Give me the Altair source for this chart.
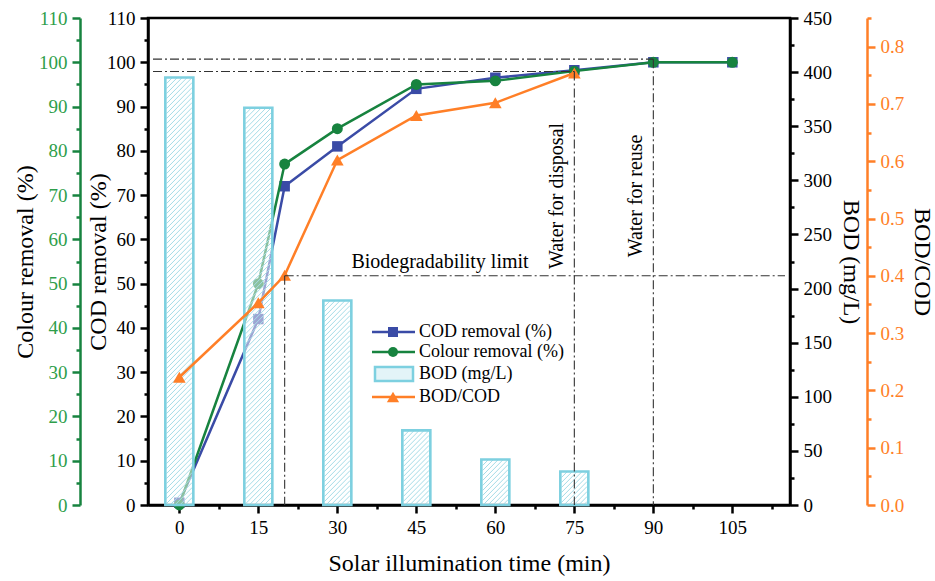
import altair as alt
import pandas as pd

# ---------------- data ----------------
time_pts = [0, 15, 20, 30, 45, 60, 75, 90, 105]
cod_removal = [0.5, 42, 72, 81, 94, 96.5, 98.2, 100, 100]
colour_removal = [0, 50, 77, 85, 95, 95.8, 98, 100, 100]

ratio_time = [0, 15, 20, 30, 45, 60, 75]
bod_cod = [0.223, 0.353, 0.401, 0.602, 0.68, 0.702, 0.754]

bod_time = [0, 15, 30, 45, 60, 75]
bod_mgL = [395, 367, 189, 69, 42, 31]

# reference lines (x, y on the COD / BOD-COD scales)
disposal_t, disposal_level = 75, 97.9
reuse_t, reuse_level = 90, 100.7
biodeg_t, biodeg_ratio = 20, 0.4

FONT = "Liberation Serif, Times New Roman, serif"
BLUE = "#3A4BA6"
GREEN = "#17833F"
GREEN_LAB = "#2E9E4A"
ORANGE = "#FF7F27"
CYAN = "#7DD0E0"
HATCH = "#A6DCE7"

W, H = 642, 487
X_DOM = [-5, 115]
COD_DOM = [0, 110]
BOD_DOM = [0, 450]
RAT_DOM = [0, 0.85]

lines_df = pd.DataFrame({"t": time_pts, "cod": cod_removal, "colour": colour_removal})
ratio_df = pd.DataFrame({"t": ratio_time, "ratio": bod_cod})
bod_df = pd.DataFrame({"t": bod_time, "bod": bod_mgL})

# hatch segments inside each bar (45 degree lines), derived from bar values
px_x = W / (X_DOM[1] - X_DOM[0])
px_b = H / (BOD_DOM[1] - BOD_DOM[0])
half_w = 13.0
step = 5.0
hrows = []
for t, b in zip(bod_time, bod_mgL):
    hh = b * px_b
    ww = 2 * half_w
    c = -hh + 1
    while c < ww:
        x0 = max(0.0, c)
        x1 = min(ww, c + hh)
        if x1 > x0:
            hrows.append({"t": t + (x0 - half_w) / px_x, "b": (x0 - c) / px_b,
                          "t2": t + (x1 - half_w) / px_x, "b2": (x1 - c) / px_b})
        c += step
hatch_df = pd.DataFrame(hrows)

# ---------------- axes ----------------
def mk_axis(title, orient, offset, values, test, label_expr, color, lab_color, title_pad):
    return alt.Axis(title=title, orient=orient, offset=offset, values=values,
                    labelExpr=label_expr,
                    tickSize={"condition": {"test": test, "value": 8}, "value": 4},
                    domainColor=color, tickColor=color, labelColor=lab_color,
                    domainWidth=2.5, tickWidth=2.5, labelFont=FONT, labelFontSize=19,
                    titleFont=FONT, titleFontSize=24, titleFontWeight="normal",
                    titleColor="black", grid=False, titlePadding=title_pad,
                    labelPadding=5, labelFlush=False, labelOverlap=False)

x_axis = mk_axis("Solar illumination time (min)", "bottom", 0,
                 [i * 7.5 for i in range(16)], "datum.value % 15 === 0",
                 "datum.value % 15 === 0 ? datum.label : ''", "black", "black", 14)
x_enc = alt.X("t:Q", scale=alt.Scale(domain=X_DOM, nice=False, zero=False), axis=x_axis)

cod_axis = mk_axis("COD removal (%)", "left", 0, [i * 5 for i in range(23)],
                   "datum.value % 10 === 0", "datum.value % 10 === 0 ? datum.label : ''",
                   "black", "black", -4)
col_axis = mk_axis("Colour removal (%)", "left", 68, [i * 5 for i in range(23)],
                   "datum.value % 10 === 0", "datum.value % 10 === 0 ? datum.label : ''",
                   GREEN, GREEN_LAB, 1)
bod_axis = mk_axis("BOD (mg/L)", "right", 0, [i * 25 for i in range(19)],
                   "datum.value % 50 === 0", "datum.value % 50 === 0 ? datum.label : ''",
                   "black", "black", 7)
rat_axis = mk_axis("BOD/COD", "right", 77, [round(i * 0.05, 2) for i in range(18)],
                   "round(datum.value * 100) % 10 === 0",
                   "round(datum.value * 100) % 10 === 0 ? format(datum.value, '.1f') : ''",
                   ORANGE, ORANGE, 6)

def ysc(dom):
    return alt.Scale(domain=dom, nice=False, zero=False)

# ---------------- layers ----------------
cod_line = alt.Chart(lines_df).mark_line(
    color=BLUE, strokeWidth=2.5,
    point=alt.OverlayMarkDef(shape="square", size=110, filled=True, color=BLUE, opacity=1)
).encode(x=x_enc, y=alt.Y("cod:Q", scale=ysc(COD_DOM), axis=cod_axis))

col_line = alt.Chart(lines_df).mark_line(
    color=GREEN, strokeWidth=2.5,
    point=alt.OverlayMarkDef(shape="circle", size=120, filled=True, color=GREEN, opacity=1)
).encode(x=x_enc, y=alt.Y("colour:Q", scale=ysc(COD_DOM), axis=col_axis))

bars_fill = alt.Chart(bod_df).mark_bar(size=28, color="white", opacity=0.5).encode(
    x=x_enc, y=alt.Y("bod:Q", scale=ysc(BOD_DOM), axis=bod_axis))

hatch = alt.Chart(hatch_df).mark_rule(color=HATCH, strokeWidth=1).encode(
    x=x_enc, x2="t2:Q",
    y=alt.Y("b:Q", scale=ysc(BOD_DOM), axis=None), y2="b2:Q")

bars_outline = alt.Chart(bod_df).mark_bar(size=28, fillOpacity=0, stroke=CYAN, strokeWidth=2.6).encode(
    x=x_enc, y=alt.Y("bod:Q", scale=ysc(BOD_DOM), axis=None))

rat_line = alt.Chart(ratio_df).mark_line(
    color=ORANGE, strokeWidth=2.5,
    point=alt.OverlayMarkDef(shape="triangle-up", size=160, filled=True, color=ORANGE, opacity=1)
).encode(x=x_enc, y=alt.Y("ratio:Q", scale=ysc(RAT_DOM), axis=rat_axis))

# dashed guide lines
ref_cod = pd.DataFrame({
    "t": [X_DOM[0], disposal_t, X_DOM[0], reuse_t],
    "t2": [disposal_t, disposal_t, reuse_t, reuse_t],
    "y": [disposal_level, disposal_level, reuse_level, reuse_level],
    "y2": [disposal_level, 0, reuse_level, 0],
})
ref_rat = pd.DataFrame({
    "t": [biodeg_t, biodeg_t],
    "t2": [X_DOM[1], biodeg_t],
    "y": [biodeg_ratio, biodeg_ratio],
    "y2": [biodeg_ratio, 0],
})
DASH = [9, 3, 2, 3]
ref1 = alt.Chart(ref_cod).mark_rule(color="#333333", strokeWidth=1.1, strokeDash=DASH).encode(
    x=x_enc, x2="t2:Q", y=alt.Y("y:Q", scale=ysc(COD_DOM), axis=None), y2="y2:Q")
ref2 = alt.Chart(ref_rat).mark_rule(color="#333333", strokeWidth=1.1, strokeDash=DASH).encode(
    x=x_enc, x2="t2:Q", y=alt.Y("y:Q", scale=ysc(RAT_DOM), axis=None), y2="y2:Q")

# annotations
ann_h = pd.DataFrame({"t": [49.5], "y": [54.9], "txt": ["Biodegradability limit"]})
ann_v = pd.DataFrame({"t": [71.8, 86.7], "y": [69.8, 69.8],
                      "txt": ["Water for disposal", "Water for reuse"]})
txt_h = alt.Chart(ann_h).mark_text(font=FONT, fontSize=20, color="black",
                                   align="center", baseline="middle").encode(
    x=x_enc, y=alt.Y("y:Q", scale=ysc(COD_DOM), axis=None), text="txt:N")
txt_v = alt.Chart(ann_v).mark_text(font=FONT, fontSize=20, color="black", angle=270,
                                   align="center", baseline="middle").encode(
    x=x_enc, y=alt.Y("y:Q", scale=ysc(COD_DOM), axis=None), text="txt:N")

# legend (manual, positioned in plot pixel space)
leg_names = ["COD removal (%)", "Colour removal (%)", "BOD (mg/L)", "BOD/COD"]
leg_rows = [314, 334, 356, 379]
lx0, lx1, lxm, ltx = 224, 267, 245, 271
one = pd.DataFrame({"a": [0]})
leg = []
for yy, col, shp in [(leg_rows[0], BLUE, "square"),
                     (leg_rows[1], GREEN, "circle"),
                     (leg_rows[3], ORANGE, "triangle-up")]:
    leg.append(alt.Chart(one).mark_rule(color=col, strokeWidth=2.5).encode(
        x=alt.value(lx0), x2=alt.value(lx1), y=alt.value(yy)))
    leg.append(alt.Chart(one).mark_point(
        shape=shp, filled=True, color=col, opacity=1,
        size=150 if shp == "triangle-up" else 100).encode(
        x=alt.value(lxm), y=alt.value(yy)))
leg.append(alt.Chart(one).mark_rect(
    fill="#E3F4F8", stroke=CYAN, strokeWidth=2.5).encode(
    x=alt.value(lx0 + 3), x2=alt.value(lx1 - 2),
    y=alt.value(leg_rows[2] - 7), y2=alt.value(leg_rows[2] + 7)))
for name, yy in zip(leg_names, leg_rows):
    leg.append(alt.Chart(pd.DataFrame({"txt": [name]})).mark_text(
        font=FONT, fontSize=18, color="black", align="left", baseline="middle").encode(
        x=alt.value(ltx), y=alt.value(yy), text="txt:N"))

chart = alt.layer(
    cod_line, col_line, bars_fill, hatch, bars_outline, rat_line,
    ref1, ref2, txt_h, txt_v, *leg
).resolve_scale(y="independent").properties(
    width=W, height=H,
    autosize=alt.AutoSizeParams(type="none"),
    padding={"left": 148, "top": 18, "right": 145, "bottom": 76},
    background="white",
).configure_view(stroke="black", strokeWidth=2.5)

chart.save("out.html", embed_options={"renderer": "svg", "actions": False})
